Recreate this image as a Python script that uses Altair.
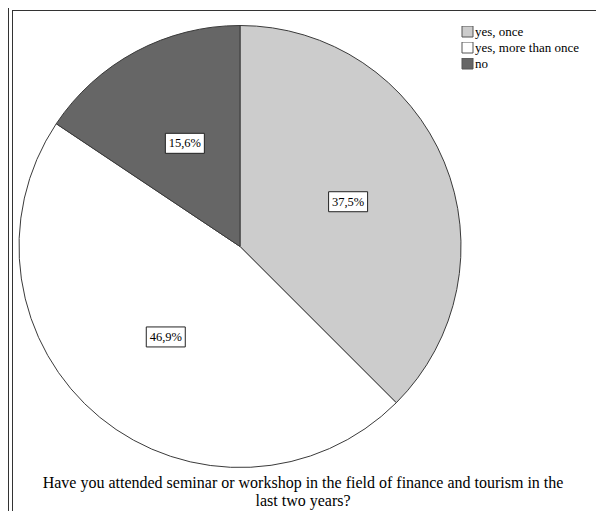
import altair as alt
import pandas as pd

categories = ["yes, once", "yes, more than once", "no"]
counts = [12, 15, 5]
labels = ["37,5%", "46,9%", "15,6%"]
colors = ["#cccccc", "#ffffff", "#666666"]
title_lines = ["Have you attended seminar or workshop in the field of finance and tourism in the",
               "last two years?"]

df = pd.DataFrame({"category": categories, "value": counts, "label": labels,
                   "idx": list(range(len(categories)))})

CX, CY, R, LR = 232, 238.5, 221, 117
SERIF = "Liberation Serif, Times New Roman, serif"

base = alt.Chart(df)

pie = base.mark_arc(radius=R, stroke="#3a3a3a", strokeWidth=1).encode(
    theta=alt.Theta("value:Q", stack=True),
    color=alt.Color("category:N", sort=categories,
                    scale=alt.Scale(domain=categories, range=colors),
                    legend=alt.Legend(title=None, orient="none", legendX=453, legendY=18,
                                      symbolType="square", symbolSize=121,
                                      symbolStrokeColor="#555555", symbolStrokeWidth=1,
                                      labelFont=SERIF, labelFontSize=13, labelColor="black",
                                      rowPadding=2, clipHeight=11, padding=0, labelOffset=1)),
    order=alt.Order("idx:Q"),
    x=alt.value(CX), y=alt.value(CY),
)

lab = base.transform_joinaggregate(total="sum(value)").transform_window(
    cum="sum(value)", sort=[alt.SortField("idx")], frame=[None, 0]
).transform_calculate(
    ang="(datum.cum - datum.value/2) / datum.total * 2 * PI",
).transform_calculate(
    lx=f"{CX} + {LR} * sin(datum.ang)",
    ly=f"{CY} - {LR} * cos(datum.ang)",
).transform_calculate(
    bx1="datum.lx - 19.5", bx2="datum.lx + 19.5",
    by1="datum.ly - 10", by2="datum.ly + 10",
)

boxes = lab.mark_rect(fill="white", stroke="#222222", strokeWidth=1).encode(
    x=alt.X("bx1:Q", scale=None, axis=None), x2="bx2:Q",
    y=alt.Y("by1:Q", scale=None, axis=None), y2="by2:Q",
)
texts = lab.mark_text(font=SERIF, fontSize=12.5, color="black").encode(
    x=alt.X("lx:Q", scale=None, axis=None),
    y=alt.Y("ly:Q", scale=None, axis=None),
    text="label:N",
)

tdf = pd.DataFrame({"t": title_lines, "i": [0, 1]})
title = alt.Chart(tdf).mark_text(font=SERIF, fontSize=16, color="black").encode(
    text="t:N",
    x=alt.value(295),
    y=alt.Y("i:Q", scale=alt.Scale(domain=[0, 1], range=[475, 493]), axis=None),
)

one = pd.DataFrame({"a": [0]})
frame_left = alt.Chart(one).mark_rule(color="#333333", strokeWidth=1).encode(
    x=alt.value(4.5), y=alt.value(2), y2=alt.value(503))
frame_top = alt.Chart(one).mark_rule(color="#333333", strokeWidth=1).encode(
    x=alt.value(4), x2=alt.value(588), y=alt.value(2.5))
frame_outer = alt.Chart(one).mark_rule(color="#333333", strokeWidth=1).encode(
    x=alt.value(0.5), y=alt.value(0), y2=alt.value(503))

chart = alt.layer(frame_outer, frame_left, frame_top, pie, boxes, texts, title).properties(
    width=588, height=503,
    autosize=alt.AutoSizeParams(type="none"),
    padding=0,
).configure_view(stroke=None)

chart.save("out.html", embed_options={"renderer": "svg", "actions": False})
